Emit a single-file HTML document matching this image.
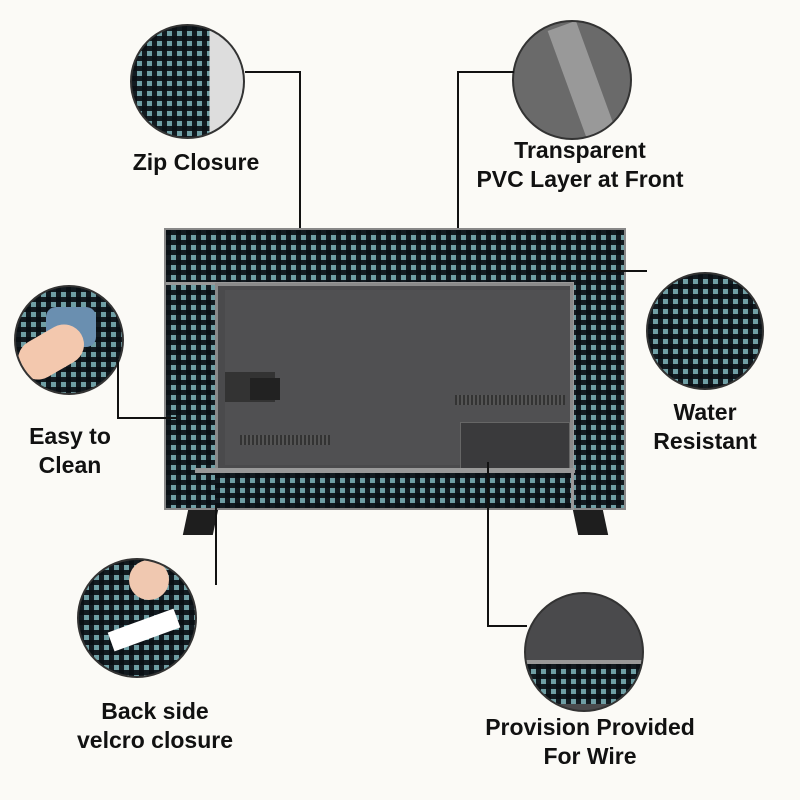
<!DOCTYPE html>
<html><head><meta charset="utf-8"><style>
body{margin:0;width:800px;height:800px;background:#fbfaf6;position:relative;overflow:hidden;font-family:"Liberation Sans",sans-serif}
.circ{position:absolute;border-radius:50%;overflow:hidden;border:2px solid #333;box-sizing:border-box;background:#eee}
.chk{background-color:#6f9ea4;background-image:linear-gradient(90deg,rgba(10,15,20,.92) 5px,transparent 5px),linear-gradient(rgba(10,15,20,.92) 5px,transparent 5px);background-size:10px 10px}
.t{position:absolute;font-weight:bold;font-size:23px;color:#111;text-align:center;line-height:29px;white-space:nowrap}
.l{position:absolute;background:#111}
</style></head><body>
<div style="position:absolute;left:186px;top:505px;width:30px;height:30px;background:#1e1e1e;transform:skewX(-12deg)"></div>
<div style="position:absolute;left:575px;top:505px;width:30px;height:30px;background:#1e1e1e;transform:skewX(12deg)"></div>
<div class="chk" style="position:absolute;left:164px;top:228px;width:462px;height:282px;border:2px solid #888;box-sizing:border-box"></div>
<div style="position:absolute;left:166px;top:282px;width:408px;height:3px;background:#999"></div>
<div style="position:absolute;left:571px;top:282px;width:3px;height:228px;background:#999"></div>
<div style="position:absolute;left:215px;top:283px;width:358px;height:190px;background:#4a4a4c;border:3px solid #8a8a8a;box-sizing:border-box"></div>
<div style="position:absolute;left:225px;top:290px;width:345px;height:175px;background:#505052"></div>
<div style="position:absolute;left:240px;top:435px;width:90px;height:10px;background:repeating-linear-gradient(90deg,#333 0 2px,#555 2px 4px)"></div>
<div style="position:absolute;left:455px;top:395px;width:110px;height:10px;background:repeating-linear-gradient(90deg,#333 0 2px,#555 2px 4px)"></div>
<div style="position:absolute;left:460px;top:422px;width:108px;height:45px;background:#3a3a3c;border:1px solid #666"></div>
<div style="position:absolute;left:225px;top:372px;width:50px;height:30px;background:#333"></div>
<div style="position:absolute;left:250px;top:378px;width:30px;height:22px;background:#222"></div>
<div style="position:absolute;left:195px;top:468px;width:380px;height:5px;background:#999"></div>
<div class="chk" style="position:absolute;left:215px;top:473px;width:356px;height:35px"></div>
<div class="circ chk" style="left:130px;top:24px;width:115px;height:115px"><div style="position:absolute;left:0;top:0;width:100%;height:100%;background:linear-gradient(90deg,transparent 70%,#ddd 70%)"></div></div>
<div class="circ" style="left:512px;top:20px;width:120px;height:120px;background:#6a6a6a"><div style="position:absolute;left:55px;top:0;width:30px;height:130px;background:#999;transform:rotate(-20deg)"></div></div>
<div class="circ chk" style="left:14px;top:285px;width:110px;height:110px"><div style="position:absolute;left:30px;top:20px;width:50px;height:40px;background:#6a8fb0;border-radius:10px"></div><div style="position:absolute;left:0;top:45px;width:70px;height:40px;background:#f3c8ae;border-radius:20px;transform:rotate(-30deg)"></div></div>
<div class="circ chk" style="left:646px;top:272px;width:118px;height:118px"></div>
<div class="circ chk" style="left:77px;top:558px;width:120px;height:120px"><div style="position:absolute;left:30px;top:60px;width:70px;height:20px;background:#fff;transform:rotate(-20deg)"></div><div style="position:absolute;left:50px;top:0;width:40px;height:40px;background:#f0c8b0;border-radius:50%"></div></div>
<div class="circ" style="left:524px;top:592px;width:120px;height:120px;background:#4a4a4c"><div class="chk" style="position:absolute;left:0;top:70px;width:100%;height:40px"></div><div style="position:absolute;left:0;top:66px;width:100%;height:4px;background:#999"></div></div>
<div class="l" style="left:245px;top:71px;width:56px;height:2px"></div>
<div class="l" style="left:299px;top:71px;width:2px;height:157px"></div>
<div class="l" style="left:457px;top:71px;width:57px;height:2px"></div>
<div class="l" style="left:457px;top:71px;width:2px;height:157px"></div>
<div class="l" style="left:545px;top:270px;width:102px;height:2px"></div>
<div class="l" style="left:117px;top:360px;width:2px;height:58px"></div>
<div class="l" style="left:117px;top:417px;width:60px;height:2px"></div>
<div class="l" style="left:215px;top:505px;width:2px;height:80px"></div>
<div class="l" style="left:487px;top:462px;width:2px;height:164px"></div>
<div class="l" style="left:487px;top:625px;width:40px;height:2px"></div>
<div class="t" style="left:116px;top:148px;width:160px">Zip Closure</div>
<div class="t" style="left:470px;top:136px;width:220px">Transparent<br>PVC Layer at Front</div>
<div class="t" style="left:20px;top:422px;width:100px">Easy to<br>Clean</div>
<div class="t" style="left:640px;top:398px;width:130px">Water<br>Resistant</div>
<div class="t" style="left:70px;top:697px;width:170px">Back side<br>velcro closure</div>
<div class="t" style="left:470px;top:713px;width:240px">Provision Provided<br>For Wire</div>
</body></html>
